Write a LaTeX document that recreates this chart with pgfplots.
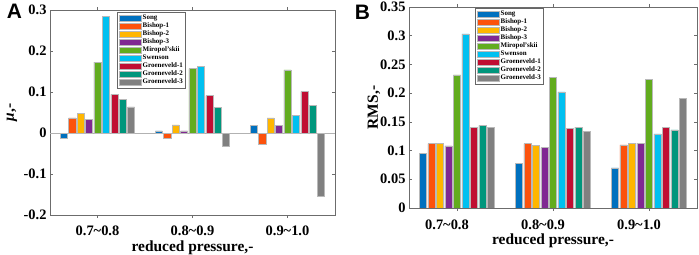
\documentclass[border=0pt]{standalone}
\usepackage{fontspec}
\setmainfont{Liberation Serif}
\newfontfamily\lettersf{Liberation Sans}
\usepackage{pgfplots}
\usepackage{pgfplotstable}
\pgfplotsset{compat=1.18}

\definecolor{cSong}{RGB}{0,112,190}
\definecolor{cBa}{RGB}{252,82,12}
\definecolor{cBb}{RGB}{255,182,0}
\definecolor{cBc}{RGB}{128,40,146}
\definecolor{cMir}{RGB}{98,172,30}
\definecolor{cSwe}{RGB}{0,192,240}
\definecolor{cGa}{RGB}{192,14,50}
\definecolor{cGb}{RGB}{0,150,124}
\definecolor{cGc}{RGB}{128,128,128}

\pgfplotstableread{
x song b1 b2 b3 mir swe g1 g2 g3
1 -0.014 0.037 0.048 0.034 0.173 0.284 0.094 0.082 0.064
2 0.005 -0.014 0.020 0.005 0.157 0.163 0.091 0.062 -0.032
3 0.019 -0.027 0.037 0.019 0.154 0.043 0.101 0.068 -0.154
}\dataA

\pgfplotstableread{
x song b1 b2 b3 mir swe g1 g2 g3
1 0.0955 0.112 0.113 0.108 0.232 0.303 0.140 0.144 0.141
2 0.0776 0.112 0.109 0.105 0.228 0.202 0.139 0.141 0.133
3 0.070 0.110 0.113 0.113 0.224 0.129 0.140 0.136 0.191
}\dataB

\newcommand{\lblfont}{\fontsize{15.5}{16}\selectfont\bfseries}

\pgfplotsset{
  mybars/.style={
    scale only axis,
    anchor=south west,
    xmin=0.5, xmax=3.5,
    xtick={1,2,3},
    xticklabels={0.7\textasciitilde0.8,0.8\textasciitilde0.9,0.9\textasciitilde1.0},
    tick align=inside,
    major tick length=3bp,
    axis line style={draw=gray!85!black, line width=0.7bp},
    tick style={draw=gray!85!black, line width=0.6bp},
    tick label style={font=\fontsize{14.5}{15}\selectfont\bfseries, text=black},
    /pgf/number format/assume math mode=true,
    ybar, bar width=0.075,
    every axis plot/.append style={draw=gray!55, line width=0.5bp},
    legend cell align=left,
    legend style={font=\fontsize{7}{7.5}\selectfont\bfseries,
      draw=gray!80!black, line width=0.7bp, fill=white,
      inner xsep=2bp, inner ysep=1.8bp, row sep=-0.1bp,
      nodes={inner sep=0.9bp}},
    legend image code/.code={\draw[##1, draw=gray!55, line width=0.5bp] (0bp,-2.8bp) rectangle (22bp,2.8bp);},
  },
}

\begin{document}
\begin{tikzpicture}
\useasboundingbox (0bp,0bp) rectangle (699bp,255bp);

% ---------- Panel A ----------
\begin{axis}[mybars,
  at={(50bp,40bp)}, width=285bp, height=205bp,
  ymin=-0.2, ymax=0.3,
  ytick={-0.2,-0.1,0,0.1,0.2,0.3},
  yticklabels={-0.2,-0.1,0,0.1,0.2,0.3},
  xticklabel style={anchor=center, yshift=-13bp},
  every axis x label/.style={at={(axis description cs:0.5,-0.161)}, anchor=center, font=\lblfont},
  every axis y label/.style={at={(axis description cs:-0.133,0.5)}, rotate=90, anchor=center, font=\lblfont},
  xlabel={reduced pressure,-},
  ylabel={{\itshape μ},-},
  legend style={at={(axis description cs:0.235,0.99)}, anchor=north west},
]
\addplot[sharp plot, forget plot, draw=gray!60, line width=0.7bp] coordinates {(0.5,0) (3.5,0)};
\addplot[fill=cSong, bar shift=-0.354] table[x=x,y=song]{\dataA};
\addplot[fill=cBa, bar shift=-0.2655] table[x=x,y=b1]{\dataA};
\addplot[fill=cBb, bar shift=-0.177] table[x=x,y=b2]{\dataA};
\addplot[fill=cBc, bar shift=-0.0885] table[x=x,y=b3]{\dataA};
\addplot[fill=cMir, bar shift=0] table[x=x,y=mir]{\dataA};
\addplot[fill=cSwe, bar shift=0.0885] table[x=x,y=swe]{\dataA};
\addplot[fill=cGa, bar shift=0.177] table[x=x,y=g1]{\dataA};
\addplot[fill=cGb, bar shift=0.2655] table[x=x,y=g2]{\dataA};
\addplot[fill=cGc, bar shift=0.354] table[x=x,y=g3]{\dataA};
\legend{Song,Bishop-1,Bishop-2,Bishop-3,Miropol'skii,Swenson,Groeneveld-1,Groeneveld-2,Groeneveld-3}
\end{axis}

% ---------- Panel B ----------
\begin{axis}[mybars,
  at={(409bp,47bp)}, width=288bp, height=201bp,
  ymin=0, ymax=0.35,
  ytick={0,0.05,0.1,0.15,0.2,0.25,0.3,0.35},
  yticklabels={0,0.05,0.1,0.15,0.2,0.25,0.3,0.35},
  xticklabel style={anchor=center, yshift=-14bp, xshift=-10bp},
  every axis x label/.style={at={(axis description cs:0.5,-0.164)}, anchor=center, font=\lblfont},
  every axis y label/.style={at={(axis description cs:-0.122,0.5)}, rotate=90, anchor=center, font=\lblfont},
  xlabel={reduced pressure,-},
  ylabel={RMS,-},
  legend style={at={(axis description cs:0.229,0.995)}, anchor=north west},
]
\addplot[fill=cSong, bar shift=-0.354] table[x=x,y=song]{\dataB};
\addplot[fill=cBa, bar shift=-0.2655] table[x=x,y=b1]{\dataB};
\addplot[fill=cBb, bar shift=-0.177] table[x=x,y=b2]{\dataB};
\addplot[fill=cBc, bar shift=-0.0885] table[x=x,y=b3]{\dataB};
\addplot[fill=cMir, bar shift=0] table[x=x,y=mir]{\dataB};
\addplot[fill=cSwe, bar shift=0.0885] table[x=x,y=swe]{\dataB};
\addplot[fill=cGa, bar shift=0.177] table[x=x,y=g1]{\dataB};
\addplot[fill=cGb, bar shift=0.2655] table[x=x,y=g2]{\dataB};
\addplot[fill=cGc, bar shift=0.354] table[x=x,y=g3]{\dataB};
\legend{Song,Bishop-1,Bishop-2,Bishop-3,Miropol'skii,Swenson,Groeneveld-1,Groeneveld-2,Groeneveld-3}
\end{axis}

\node[font=\lettersf\fontsize{21}{21}\selectfont\bfseries, inner sep=0pt] at (14.5bp,243.5bp) {A};
\node[font=\lettersf\fontsize{21}{21}\selectfont\bfseries, inner sep=0pt] at (362.5bp,242.5bp) {B};
\end{tikzpicture}
\end{document}
